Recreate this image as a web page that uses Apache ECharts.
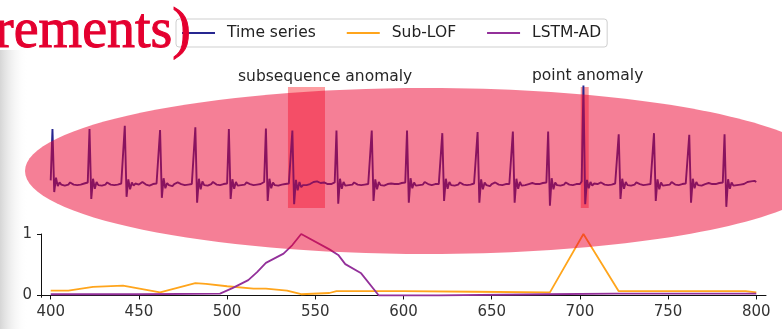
<!DOCTYPE html>
<html>
<head>
<meta charset="utf-8">
<script src="https://cdn.jsdelivr.net/npm/echarts@6/dist/echarts.min.js"></script>
<style>
  html, body { margin: 0; padding: 0; background: #ffffff; }
  #chart { width: 782px; height: 329px; }
</style>
</head>
<body>
<div id="chart"></div>
<script>
// ECG recording, one sample per time step starting at ecgStart
const ecgStart = 400;
const ecgValues = [
  0.05,
  1.02, -0.17, 0.10, -0.06, 0.01, -0.03, -0.02, -0.05, -0.02, -0.03, 0.01, -0.01, -0.03, -0.02, -0.04, -0.02, -0.03, 0.00, -0.01, -0.02, 0.01,
  1.02, -0.30, 0.08, -0.11, 0.02, -0.04, -0.02, -0.05, -0.02, -0.03, 0.01, 0.00, -0.03, -0.02, -0.04, -0.02, -0.03, 0.00, -0.01, 0.02,
  1.08, -0.26, 0.07, -0.12, 0.01, -0.05, -0.01, -0.04, -0.03, -0.02, 0.02, -0.01, -0.03, -0.02, -0.05, -0.03, -0.02, 0.01, -0.01, 0.02,
  1.00, -0.28, 0.09, -0.10, 0.00, -0.04, -0.02, -0.06, -0.02, -0.03, 0.01, 0.00, -0.02, -0.03, -0.04, -0.02, -0.03, 0.00, -0.02, 0.01,
  1.05, -0.37, 0.08, -0.12, 0.03, -0.04, -0.02, -0.05, -0.03, -0.02, 0.02, -0.01, -0.03, -0.01, -0.04, -0.03, -0.02, 0.00, -0.01,
  1.02, -0.30, 0.07, -0.11, 0.02, -0.05, -0.02, -0.04, -0.02, -0.03, 0.01, -0.01, -0.02, -0.03, -0.04, -0.02, -0.03, 0.00, -0.02, -0.01, 0.02,
  1.03, -0.34, 0.08, -0.10, 0.01, -0.04, -0.02, -0.05, -0.02, -0.03, -0.01, -0.02, -0.03, -0.01, 0.02,
  0.99, -0.40, 0.06, -0.14, 0.02, -0.08, -0.04, -0.03, -0.04, -0.01, -0.02, 0.01, 0.02, 0.01, 0.03, 0.02, 0.00, 0.02, 0.01, -0.01, -0.02, -0.03, -0.02, -0.01, 0.01,
  0.99, -0.39, 0.08, -0.11, 0.02, -0.05, -0.02, -0.04, -0.02, -0.03, 0.01, 0.00, -0.03, -0.02, -0.04, -0.02, -0.03, 0.00, -0.02, 0.01,
  0.99, -0.34, 0.07, -0.12, 0.02, -0.04, -0.01, -0.05, -0.03, -0.02, 0.01, -0.01, -0.03, -0.02, -0.04, -0.02, -0.03, 0.00, -0.01, 0.01,
  0.99, -0.37, 0.09, -0.10, 0.01, -0.05, -0.02, -0.04, -0.02, -0.03, 0.02, -0.01, -0.02, -0.03, -0.04, -0.03, -0.02, 0.00, -0.02, 0.01,
  0.94, -0.34, 0.08, -0.11, 0.02, -0.04, -0.02, -0.05, -0.02, -0.03, 0.01, 0.00, -0.03, -0.02, -0.04, -0.02, -0.03, 0.00, -0.01, 0.02,
  0.96, -0.37, 0.07, -0.12, 0.01, -0.04, -0.02, -0.06, -0.02, -0.03, 0.01, -0.01, -0.03, -0.02, -0.04, -0.03, -0.02, 0.00, -0.02, 0.01,
  0.97, -0.37, 0.08, -0.11, 0.02, -0.05, -0.02, -0.04, -0.03, -0.02, 0.01, 0.00, -0.03, -0.02, -0.04, -0.02, -0.03, 0.00, -0.01, 0.01,
  0.97, -0.43, 0.09, -0.12, 0.01, -0.04, -0.02, -0.05, -0.02, -0.03, 0.01, -0.01, -0.03, -0.02, -0.04, -0.03, -0.02, -0.01, -0.02, 0.03,
  1.84, -0.40, 0.06, -0.10, 0.02, -0.05, -0.01, -0.04, -0.02, -0.03, 0.01, -0.01, -0.03, -0.02, -0.04, -0.02, -0.03, 0.00, -0.01, 0.01,
  0.92, -0.30, 0.08, -0.11, 0.02, -0.04, -0.02, -0.05, -0.02, -0.03, 0.01, 0.00, -0.02, -0.03, -0.04, -0.02, -0.03, 0.00, -0.02, 0.01,
  0.94, -0.34, 0.07, -0.12, 0.01, -0.05, -0.02, -0.04, -0.02, -0.03, 0.02, -0.01, -0.03, -0.02, -0.04, -0.03, -0.02, 0.00, -0.01, 0.01,
  0.91, -0.37, 0.08, -0.10, 0.02, -0.04, -0.02, -0.05, -0.03, -0.02, 0.01, 0.00, -0.03, -0.02, -0.04, -0.02, -0.03, 0.00, -0.02, 0.01,
  0.92, -0.45, 0.07, -0.11, 0.01, -0.05, -0.02, -0.04, -0.01, -0.03, 0.00, -0.02, -0.01, 0.02, 0.00, 0.03, 0.01, 0.04, 0.02
];

// Anomaly scores (normalised to 0..1)
const subLofTime  = [400, 410, 424, 441, 462, 482, 488, 500, 515, 522, 534, 542, 558, 562, 600, 640, 681, 683, 702, 722, 760, 794, 800];
const subLofScore = [0.08, 0.08, 0.14, 0.16, 0.05, 0.20, 0.19, 0.15, 0.11, 0.11, 0.08, 0.02, 0.04, 0.07, 0.07, 0.06, 0.05, 0.05, 1.00, 0.07, 0.07, 0.07, 0.05];

const lstmTime  = [400, 450, 496, 503, 512, 517, 522, 532, 537, 542, 558, 563, 567, 576, 586, 620, 680, 720, 800];
const lstmScore = [0.02, 0.02, 0.03, 0.12, 0.25, 0.38, 0.53, 0.68, 0.82, 1.00, 0.75, 0.66, 0.51, 0.36, 0.00, 0.00, 0.02, 0.03, 0.03];

// Highlighted anomaly windows [start, end]
const anomalyWindows = [[534.5, 555.5], [700.5, 705]];
const anomalyLabels = ['subsequence anomaly', 'point anomaly'];

const xTicks = [400, 450, 500, 550, 600, 650, 700, 750, 800];
const yTicks = [0, 1];

const seriesNames = ['Time series', 'Sub-LOF', 'LSTM-AD'];
const seriesColors = ['#262690', '#ffa51c', '#93309a'];

const FONT = 'DejaVu Sans';

const chart = echarts.init(document.getElementById('chart'), null, { renderer: 'canvas' });

const pairs = (xs, ys) => xs.map((x, i) => [x, ys[i]]);
const ecgData = ecgValues.map((v, i) => [ecgStart + i, v]);

const xBase = { type: 'value', min: 394.5, max: 805.5 };

const option = {
  animation: false,
  backgroundColor: '#ffffff',
  legend: {
    data: seriesNames,
    left: 176,
    top: 19,
    orient: 'horizontal',
    icon: 'rect',
    itemWidth: 33,
    itemHeight: 2,
    itemGap: 31,
    padding: [6, 6, 6, 6],
    borderColor: '#cfcfcf',
    borderWidth: 1,
    borderRadius: 3,
    backgroundColor: '#ffffff',
    textStyle: { fontFamily: FONT, fontSize: 15.5, color: '#222222', padding: [0, 0, 0, 7], lineHeight: 16 }
  },
  grid: [
    { left: 41, width: 725, top: 77, height: 159 },
    { left: 41, width: 725, top: 234, height: 63.3 }
  ],
  xAxis: [
    Object.assign({ gridIndex: 0, show: false }, xBase),
    Object.assign({
      gridIndex: 1,
      axisLine: { show: true, lineStyle: { color: '#111111', width: 1 } },
      axisTick: { show: true, customValues: xTicks, length: 4, lineStyle: { color: '#111111' } },
      axisLabel: { customValues: xTicks, fontFamily: FONT, fontSize: 15, color: '#333333', margin: 7 },
      splitLine: { show: false }
    }, xBase)
  ],
  yAxis: [
    { type: 'value', gridIndex: 0, min: -1, max: 2, show: false },
    {
      type: 'value', gridIndex: 1, min: -0.03, max: 1,
      axisLine: { show: true, lineStyle: { color: '#111111', width: 1 } },
      axisTick: { show: true, customValues: yTicks, length: 4, lineStyle: { color: '#111111' } },
      axisLabel: { customValues: yTicks, fontFamily: FONT, fontSize: 15, color: '#333333', margin: 9 },
      splitLine: { show: false }
    }
  ],
  series: [
    {
      name: seriesNames[0], type: 'line', xAxisIndex: 0, yAxisIndex: 0,
      data: ecgData, showSymbol: false, color: seriesColors[0],
      lineStyle: { width: 1.9, color: seriesColors[0] },
      markArea: {
        silent: true,
        itemStyle: { color: 'rgba(250, 10, 20, 0.4)' },
        data: anomalyWindows.map(w => [{ xAxis: w[0], yAxis: 1.81 }, { xAxis: w[1], yAxis: -0.47 }])
      }
    },
    {
      name: seriesNames[1], type: 'line', xAxisIndex: 1, yAxisIndex: 1,
      data: pairs(subLofTime, subLofScore), showSymbol: false, color: seriesColors[1],
      lineStyle: { width: 1.8, color: seriesColors[1] }
    },
    {
      name: seriesNames[2], type: 'line', xAxisIndex: 1, yAxisIndex: 1,
      data: pairs(lstmTime, lstmScore), showSymbol: false, color: seriesColors[2],
      lineStyle: { width: 1.8, color: seriesColors[2] }
    }
  ],
  graphic: [
    {
      type: 'rect', z: -1, silent: true,
      shape: { x: 0, y: 50, width: 28, height: 279 },
      style: {
        fill: new echarts.graphic.LinearGradient(0, 0, 1, 0, [
          { offset: 0, color: 'rgba(200,200,200,0.75)' },
          { offset: 1, color: 'rgba(255,255,255,0)' }
        ])
      }
    },
    {
      type: 'text', z: 50, silent: true, x: 238, y: 77,
      style: { text: anomalyLabels[0], font: '15.5px "DejaVu Sans"', fill: '#262626', verticalAlign: 'middle', textVerticalAlign: 'middle' }
    },
    {
      type: 'text', z: 50, silent: true, x: 532, y: 76,
      style: { text: anomalyLabels[1], font: '15.5px "DejaVu Sans"', fill: '#262626', verticalAlign: 'middle', textVerticalAlign: 'middle' }
    },
    {
      type: 'ellipse', z: 100, silent: true,
      shape: { cx: 427, cy: 171, rx: 402, ry: 83 },
      style: { fill: 'rgba(235, 0, 45, 0.5)' }
    },
    {
      type: 'text', z: 101, silent: true, x: 191, y: 32,
      style: {
        text: 'rements)', font: '56px "Liberation Serif"', fill: '#e4002f',
        stroke: '#e4002f', lineWidth: 1,
        align: 'right', textAlign: 'right', verticalAlign: 'middle', textVerticalAlign: 'middle'
      }
    }
  ]
};

chart.setOption(option);
</script>
</body>
</html>
